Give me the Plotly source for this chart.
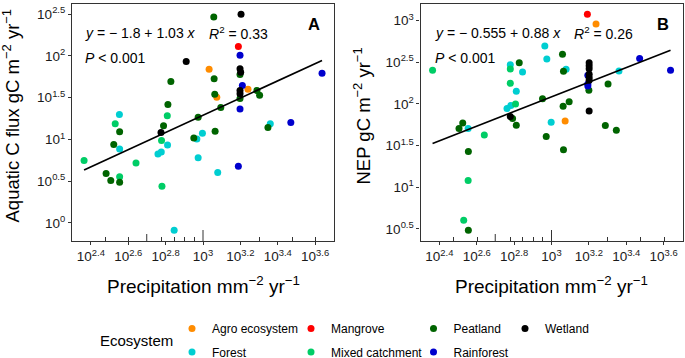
import math
import plotly.graph_objects as go

# ---------------- data ----------------
ECOSYSTEMS = ["Agro ecosystem", "Forest", "Mangrove", "Mixed catchment",
              "Peatland", "Rainforest", "Wetland"]
ECO_COLORS = ["#FF8C00", "#00CED1", "#FF0000", "#00CD66",
              "#006400", "#0000CD", "#000000"]
LEGEND_OF = ["legend", "legend", "legend2", "legend2",
             "legend3", "legend3", "legend4"]

# Panel A: precipitation (mm) vs aquatic C flux (gC m-2 yr-1)
prec_a = [231, 303, 321, 333, 339, 357, 358, 358, 358, 358,
          438, 574, 598, 596, 600, 603, 615, 644, 649, 646,
          673, 701, 813, 893, 927, 942, 942, 993, 1078, 1142,
          1147, 1156, 1185, 1161, 1199, 1245, 1546, 1578, 1598, 1578,
          1591, 1578, 1624, 1578, 1578, 1578, 1578, 1546, 1741, 1944,
          2009, 2226, 2291, 2951, 4335]
flux_a = [5.61, 3.92, 3.21, 8.72, 15.4, 19.9, 12.4, 7.67, 3.58, 3.06,
          5.22, 6.68, 7.06, 12.1, 9.73, 2.74, 14.6, 19.2, 26.2, 8.56,
          49.5, 0.816, 85.8, 10.4, 10.1, 18.5, 6.04, 11.9, 69.5, 294,
          53.2, 34.9, 32.1, 12.5, 4.03, 24.2, 130, 102, 316, 70.1,
          63.9, 60.0, 44.3, 38.6, 35.2, 31.0, 23.1, 4.76, 40.0, 38.6,
          33.9, 13.9, 15.4, 16.0, 62.2]
eco_a = ["Mixed catchment", "Peatland", "Peatland", "Peatland", "Mixed catchment",
         "Forest", "Peatland", "Forest", "Mixed catchment", "Peatland",
         "Mixed catchment", "Forest", "Forest", "Wetland", "Mixed catchment",
         "Mixed catchment", "Peatland", "Mixed catchment", "Peatland", "Forest",
         "Peatland", "Forest", "Wetland", "Peatland", "Forest",
         "Peatland", "Forest", "Forest", "Agro ecosystem", "Peatland",
         "Peatland", "Peatland", "Agro ecosystem", "Peatland", "Forest",
         "Peatland", "Mangrove", "Rainforest", "Wetland", "Wetland",
         "Wetland", "Peatland", "Rainforest", "Wetland", "Wetland",
         "Peatland", "Rainforest", "Rainforest", "Agro ecosystem", "Peatland",
         "Peatland", "Peatland", "Forest", "Rainforest", "Rainforest"]

# Panel B: precipitation (mm) vs NEP (gC m-2 yr-1)
prec_b = [231, 320, 335, 358, 359, 358, 339, 359, 437, 578,
          602, 602, 602, 602, 606, 619, 642, 648, 648, 672,
          700, 895, 921, 944, 937, 996, 1145, 1159, 1197, 1154,
          1183, 1243, 1159, 1556, 1731, 1590, 1590, 1590, 1590, 1590,
          1590, 1590, 1565, 1565, 1565, 1585, 2007, 1941, 2223, 2297,
          2962, 4335]
nep_b = [254, 50.6, 59.2, 50.6, 26.8, 12.0, 4.02, 3.05, 42.5, 87.9,
         296, 263, 177, 70.5, 95.5, 66.7, 100, 55.5, 142, 313,
         242, 115, 497, 347, 40.6, 60.3, 394, 247, 261, 93.8,
         62.5, 106, 28.1, 1191, 912, 313, 288, 265, 227, 207,
         192, 82.4, 221, 174, 164, 146, 174, 55.0, 48.3, 249,
         350, 254]
eco_b = ["Mixed catchment", "Peatland", "Peatland", "Forest", "Peatland",
         "Mixed catchment", "Mixed catchment", "Peatland", "Mixed catchment", "Forest",
         "Forest", "Mixed catchment", "Mixed catchment", "Wetland", "Forest",
         "Peatland", "Mixed catchment", "Peatland", "Forest", "Peatland",
         "Forest", "Peatland", "Forest", "Forest", "Peatland",
         "Forest", "Peatland", "Peatland", "Forest", "Peatland",
         "Agro ecosystem", "Peatland", "Peatland", "Mangrove", "Agro ecosystem",
         "Wetland", "Wetland", "Wetland", "Wetland", "Wetland",
         "Wetland", "Wetland", "Rainforest", "Rainforest", "Rainforest",
         "Peatland", "Peatland", "Peatland", "Peatland", "Forest",
         "Rainforest", "Rainforest"]

# fitted log-log regressions printed on the chart (log10 y = a + b log10 x)
fit_a = {"intercept": -1.8, "slope": 1.03, "r2": "0.33", "label": "A"}
fit_b = {"intercept": -0.555, "slope": 0.88, "r2": "0.26", "label": "B"}

x_tick_exps = [2.4, 2.6, 2.8, 3, 3.2, 3.4, 3.6]
y_tick_exps_a = [0, 0.5, 1, 1.5, 2, 2.5]
y_tick_exps_b = [0.5, 1, 1.5, 2, 2.5, 3]
log_short_ticks = [300, 400, 600, 700, 800, 900, 2000, 3000, 4000]
log_mid_ticks = [500]
log_long_ticks = [1000]

x_title = "Precipitation mm<sup>−2</sup> yr<sup>−1</sup>"
y_title_a = "Aquatic C flux gC m<sup>−2</sup> yr<sup>−1</sup>"
y_title_b = "NEP gC m<sup>−2</sup> yr<sup>−1</sup>"

# ---------------- figure ----------------
FONT = "Liberation Sans, Arial, sans-serif"
W, H = 685, 358
TICK_SIZE = 13.5


def exp_text(e):
    return "10<sup>%s</sup>" % ("%g" % e)


fig = go.Figure()

panels = [
    (prec_a, flux_a, eco_a, fit_a, "x", "y"),
    (prec_b, nep_b, eco_b, fit_b, "x2", "y2"),
]
for pi, (px, py, pe, fit, xa, ya) in enumerate(panels):
    for k, eco in enumerate(ECOSYSTEMS):
        xs = [x for x, e in zip(px, pe) if e == eco]
        ys = [y for y, e in zip(py, pe) if e == eco]
        fig.add_trace(go.Scatter(
            x=xs, y=ys, mode="markers", name=eco,
            marker=dict(color=ECO_COLORS[k], size=7, line=dict(width=0)),
            xaxis=xa, yaxis=ya, legend=LEGEND_OF[k], legendgroup=eco,
            showlegend=(pi == 0)))
    # regression line across the data extent
    lx = [min(px), max(px)]
    ly = [10 ** (fit["intercept"] + fit["slope"] * math.log10(v)) for v in lx]
    fig.add_trace(go.Scatter(x=lx, y=ly, mode="lines",
                             line=dict(color="black", width=1.7),
                             xaxis=xa, yaxis=ya, showlegend=False,
                             hoverinfo="skip"))

# axes geometry (pixels)
plot_top, plot_bot = 3.5, 241.0
ydom = [(H - plot_bot) / H, (H - plot_top) / H]
xdomA = [72.0 / W, 334.0 / W]
xdomB = [420.5 / W, 682.5 / W]
xrange_log = [2.299, 3.701]
yrangeA = [-0.217, 2.629]
yrangeB = [0.354, 3.206]

common_x = dict(
    type="log", range=xrange_log,
    tickmode="array", tickvals=[10 ** e for e in x_tick_exps],
    ticktext=[exp_text(e) for e in x_tick_exps],
    ticks="outside", ticklen=3, tickwidth=1, tickcolor="#333333",
    showline=True, linecolor="#333333", linewidth=1.1, mirror=True,
    showgrid=False, zeroline=False,
    tickfont=dict(family=FONT, size=TICK_SIZE, color="#1a1a1a"),
    minor=dict(tickmode="array", tickvals=log_short_ticks, ticks="inside",
               ticklen=3.5, tickwidth=1, tickcolor="#333333", showgrid=False),
)
common_y = dict(
    type="log", tickmode="array", ticks="outside", ticklen=3, tickwidth=1,
    tickcolor="#333333", showline=True, linecolor="#333333", linewidth=1.1,
    mirror=True, showgrid=False, zeroline=False,
    tickfont=dict(family=FONT, size=TICK_SIZE, color="#1a1a1a"),
)

fig.update_layout(
    width=W, height=H,
    margin=dict(l=0, r=0, t=0, b=0, autoexpand=False),
    paper_bgcolor="white", plot_bgcolor="white",
    font=dict(family=FONT, color="black"),
    xaxis=dict(domain=xdomA, anchor="y", **common_x),
    yaxis=dict(domain=ydom, anchor="x", range=yrangeA,
               tickvals=[10 ** e for e in y_tick_exps_a],
               ticktext=[exp_text(e) for e in y_tick_exps_a], **common_y),
    xaxis2=dict(domain=xdomB, anchor="y2", **common_x),
    yaxis2=dict(domain=ydom, anchor="x2", range=yrangeB,
                tickvals=[10 ** e for e in y_tick_exps_b],
                ticktext=[exp_text(e) for e in y_tick_exps_b], **common_y),
)

# medium/long log ticks drawn inward from the bottom axis
shapes = []
for xa in ["x", "x2"]:
    for v, ln in [(t, 7.0) for t in log_mid_ticks] + [(t, 11.0) for t in log_long_ticks]:
        shapes.append(dict(type="line", xref=xa, yref=xa.replace("x", "y") + " domain",
                           x0=v, x1=v, y0=0, y1=ln / (plot_bot - plot_top),
                           line=dict(color="#333333", width=1)))
fig.update_layout(shapes=shapes)

# legends (one per column)
leg_common = dict(orientation="v", xanchor="left", yanchor="top",
                  bgcolor="rgba(0,0,0,0)", borderwidth=0,
                  font=dict(family=FONT, size=12, color="black"),
                  tracegroupgap=4.5, itemclick=False, itemdoubleclick=False)
leg_y = 1 - 314.0 / H
fig.update_layout(
    legend=dict(x=172.0 / W, y=leg_y, **leg_common),
    legend2=dict(x=291.0 / W, y=leg_y, **leg_common),
    legend3=dict(x=413.5 / W, y=leg_y, **leg_common),
    legend4=dict(x=505.0 / W, y=leg_y, **leg_common),
)

ann = []
ann.append(dict(text="Ecosystem", x=136.5 / W, y=1 - 340.0 / H, xref="paper", yref="paper",
                xanchor="center", yanchor="middle", showarrow=False,
                font=dict(family=FONT, size=15, color="black")))
# axis titles
for cx in [(xdomA[0] + xdomA[1]) / 2, (xdomB[0] + xdomB[1]) / 2]:
    ann.append(dict(text=x_title, x=cx, y=1 - 285.0 / H, xref="paper", yref="paper",
                    xanchor="center", yanchor="middle", showarrow=False,
                    font=dict(family=FONT, size=19, color="black")))
for tx, t in [(11.5, y_title_a), (362.5, y_title_b)]:
    ann.append(dict(text=t, x=tx / W, y=1 - 116.0 / H, xref="paper", yref="paper",
                    xanchor="center", yanchor="middle", textangle=-90, showarrow=False,
                    font=dict(family=FONT, size=18.5, color="black")))

# equations, p-values and panel letters
for fit, x0, xr, xl in [(fit_a, 83.3, 206.7, 314.0), (fit_b, 433.3, 571.7, 662.5)]:
    sign = "−" if fit["intercept"] < 0 else "+"
    eq = "<i>y</i> = %s %g + %g <i>x</i>" % (sign, abs(fit["intercept"]), fit["slope"])
    ann.append(dict(text=eq, x=x0 / W, y=1 - 33.5 / H, xref="paper", yref="paper",
                    xanchor="left", yanchor="middle", showarrow=False,
                    font=dict(family=FONT, size=14, color="black")))
    ann.append(dict(text="<i>R</i><sup>2</sup> = %s" % fit["r2"], x=xr / W, y=1 - 33.5 / H,
                    xref="paper", yref="paper", xanchor="left", yanchor="middle",
                    showarrow=False, font=dict(family=FONT, size=14, color="black")))
    ann.append(dict(text="<i>P</i> < 0.001", x=x0 / W, y=1 - 58.0 / H, xref="paper",
                    yref="paper", xanchor="left", yanchor="middle", showarrow=False,
                    font=dict(family=FONT, size=14, color="black")))
    ann.append(dict(text="<b>%s</b>" % fit["label"], x=xl / W, y=1 - 24.0 / H, xref="paper",
                    yref="paper", xanchor="center", yanchor="middle", showarrow=False,
                    font=dict(family=FONT, size=16.5, color="black")))
fig.update_layout(annotations=ann)

fig.write_html("out.html",
               config={"displayModeBar": False},
               post_script="document.body.style.margin='0';"
                           "document.body.style.overflow='hidden';")
